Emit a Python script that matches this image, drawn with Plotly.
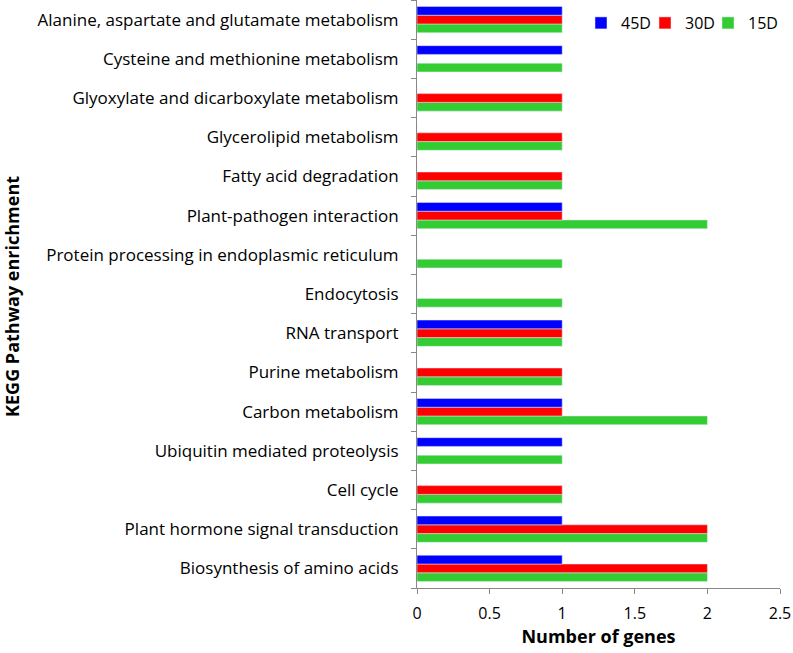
import plotly.graph_objects as go

categories = [
    "Biosynthesis of amino acids",
    "Plant hormone signal transduction",
    "Cell cycle",
    "Ubiquitin mediated proteolysis",
    "Carbon metabolism",
    "Purine metabolism",
    "RNA transport",
    "Endocytosis",
    "Protein processing in endoplasmic reticulum",
    "Plant-pathogen interaction",
    "Fatty acid degradation",
    "Glycerolipid metabolism",
    "Glyoxylate and dicarboxylate metabolism",
    "Cysteine and methionine metabolism",
    "Alanine, aspartate and glutamate metabolism",
]
d45 = [1, 1, 0, 1, 1, 0, 1, 0, 0, 1, 0, 0, 0, 1, 1]
d30 = [2, 2, 1, 0, 1, 1, 1, 0, 0, 1, 1, 1, 1, 0, 1]
d15 = [2, 2, 1, 1, 2, 1, 1, 1, 1, 2, 1, 1, 1, 1, 1]

font = "'Open Sans', Lato, sans-serif"
WIDTH, HEIGHT = 793, 653
L, R, T, B = 417, 13, 0, 65
W = WIDTH - L - R

fig = go.Figure()
fig.add_trace(go.Bar(y=categories, x=d15, name="15D", orientation="h",
                     marker_color="#33CC33", legend="legend3"))
fig.add_trace(go.Bar(y=categories, x=d30, name="30D", orientation="h",
                     marker_color="#FF0000", legend="legend2"))
fig.add_trace(go.Bar(y=categories, x=d45, name="45D", orientation="h",
                     marker_color="#0000FF", legend="legend"))

def leg(xpix):
    return dict(orientation="h", xref="container", yref="container",
                x=xpix / WIDTH, y=1 - 23 / HEIGHT, xanchor="left", yanchor="middle",
                font=dict(size=16), bgcolor="rgba(0,0,0,0)", borderwidth=0)

fig.update_layout(
    width=WIDTH, height=HEIGHT, showlegend=True,
    barmode="group", bargap=0.33, bargroupgap=0,
    plot_bgcolor="white", paper_bgcolor="white",
    margin=dict(l=L, r=R, t=T, b=B, autoexpand=False),
    font=dict(family=font, size=17, color="black"),
    legend=leg(581), legend2=leg(645), legend3=leg(708),
    xaxis=dict(range=[0, 2.5], dtick=0.5, showgrid=False, zeroline=False,
               automargin=False,
               showline=True, linecolor="#888888", linewidth=1,
               ticks="outside", ticklen=5, tickcolor="#888888",
               ticklabelstandoff=6,
               title=dict(text="<b>Number of genes</b>", font=dict(size=18), standoff=6),
               tickfont=dict(size=16)),
    yaxis=dict(showgrid=False, showline=True, linecolor="#888888", linewidth=1,
               automargin=False,
               ticks="outside", ticklen=5, tickcolor="#888888", tickson="boundaries",
               tickfont=dict(size=17), ticklabelstandoff=14),
    annotations=[dict(text="<b>KEGG Pathway enrichment</b>", textangle=-90,
                      xref="paper", yref="paper", x=(12 - L) / W, y=0.495,
                      xanchor="center", yanchor="middle", showarrow=False,
                      font=dict(size=18))],
)
fig.write_html("out.html", config={"displayModeBar": False},
               post_script="document.body.style.margin='0px';")
